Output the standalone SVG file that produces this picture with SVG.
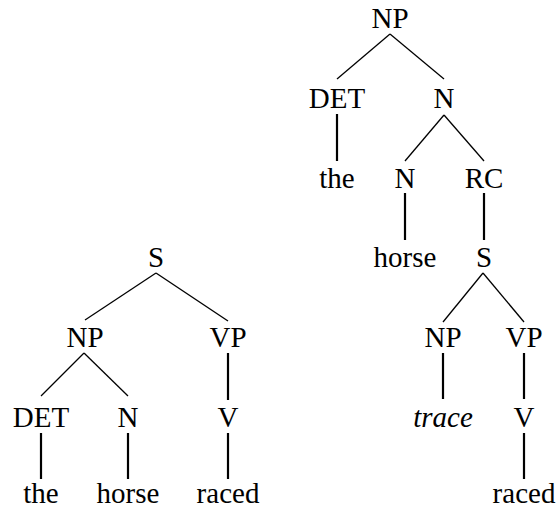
<svg xmlns="http://www.w3.org/2000/svg" width="559" height="510" viewBox="0 0 559 510">
<style>
text{font-family:"Liberation Serif","Times New Roman",serif;font-size:29px;fill:#000;text-anchor:middle}
.it{font-style:italic}
.d{stroke:#000;stroke-width:1.3;fill:none}
.v{stroke:#000;stroke-width:2.2;fill:none}
</style>
<rect width="559" height="510" fill="#fff"/>
<g id="connectors">
<line class="d" x1="156" y1="273" x2="85" y2="320"/>
<line class="d" x1="156" y1="273" x2="228" y2="321"/>
<line class="d" x1="84" y1="353" x2="41" y2="396"/>
<line class="d" x1="84" y1="353" x2="128" y2="396"/>
<line class="v" x1="228" y1="353" x2="228" y2="400"/>
<line class="v" x1="41" y1="433" x2="41" y2="479"/>
<line class="v" x1="128" y1="433" x2="128" y2="479"/>
<line class="v" x1="228" y1="433" x2="228" y2="479"/>
<line class="d" x1="390" y1="34" x2="337" y2="79"/>
<line class="d" x1="390" y1="34" x2="444" y2="79"/>
<line class="v" x1="337" y1="114" x2="337" y2="161"/>
<line class="d" x1="444" y1="115" x2="405" y2="161"/>
<line class="d" x1="444" y1="115" x2="484" y2="161"/>
<line class="v" x1="405" y1="193" x2="405" y2="240"/>
<line class="v" x1="484" y1="193" x2="484" y2="240"/>
<line class="d" x1="483" y1="273" x2="443" y2="322"/>
<line class="d" x1="483" y1="273" x2="524" y2="322"/>
<line class="v" x1="443" y1="353" x2="443" y2="399"/>
<line class="v" x1="524" y1="353" x2="524" y2="399"/>
<line class="v" x1="524" y1="433" x2="524" y2="479"/>
</g>
<g id="l-S"><text x="156" y="267">S</text></g>
<g id="l-NP"><text x="85" y="347">NP</text></g>
<g id="l-VP"><text x="228" y="347">VP</text></g>
<g id="l-DET"><text x="41" y="427">DET</text></g>
<g id="l-N"><text x="128" y="427">N</text></g>
<g id="l-V"><text x="228" y="427">V</text></g>
<g id="l-the"><text x="41" y="503">the</text></g>
<g id="l-horse"><text x="128" y="503">horse</text></g>
<g id="l-raced"><text x="228" y="503">raced</text></g>
<g id="r-NP"><text x="390" y="28">NP</text></g>
<g id="r-DET"><text x="337" y="108">DET</text></g>
<g id="r-N"><text x="444" y="108">N</text></g>
<g id="r-the"><text x="337" y="188">the</text></g>
<g id="r-N2"><text x="405" y="188">N</text></g>
<g id="r-RC"><text x="484" y="188">RC</text></g>
<g id="r-horse"><text x="405" y="267">horse</text></g>
<g id="r-S"><text x="484" y="267">S</text></g>
<g id="r-NP2"><text x="443" y="347">NP</text></g>
<g id="r-VP"><text x="524" y="347">VP</text></g>
<g id="r-trace"><text class="it" x="443" y="427">trace</text></g>
<g id="r-V"><text x="524" y="427">V</text></g>
<g id="r-raced"><text x="524" y="503">raced</text></g>
</svg>
